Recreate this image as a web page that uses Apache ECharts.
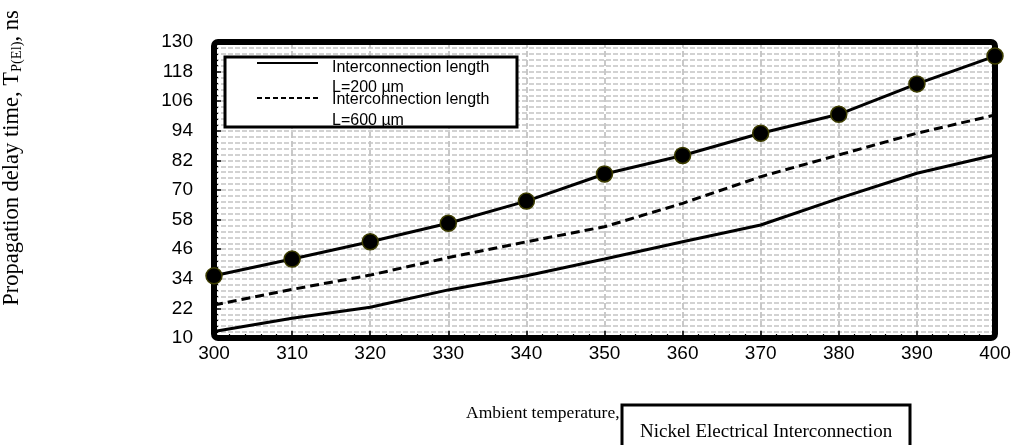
<!DOCTYPE html>
<html><head><meta charset="utf-8">
<script src="https://cdn.jsdelivr.net/npm/echarts@6/dist/echarts.min.js"></script>
<style>html,body{margin:0;padding:0;background:#fff}#c{width:1018px;height:445px}</style>
</head><body><div id="c"></div>
<script>
const temperatures = [300, 310, 320, 330, 340, 350, 360, 370, 380, 390, 400];
const delayL200 = [12.6, 18, 22.5, 29.5, 35.2, 42, 49, 55.8, 66.6, 76.8, 84.2];
const delayL600 = [23.4, 29.7, 35.5, 42.6, 49, 55.1, 64.6, 75.4, 84.2, 93, 100.4];
const delayMarked = [35.2, 42, 49, 56.5, 65.5, 76.5, 84, 93, 100.7, 113, 124.3];
const yTicks = [10, 22, 34, 46, 58, 70, 82, 94, 106, 118, 130];
const xTicks = [300, 310, 320, 330, 340, 350, 360, 370, 380, 390, 400];
const legendNames = ['Interconnection length', 'L=200 µm', 'Interconnection length', 'L=600 µm'];
const yTitle = ['Propagation delay time, T', 'P(El)', ', ns'];
const xTitle = 'Ambient temperature, T, K';
const boxTitle = 'Nickel Electrical Interconnection';

const pairs = v => temperatures.map((t, i) => [t, v[i]]);
const SANS = '"Liberation Sans", Arial, sans-serif';
const SERIF = '"Liberation Serif", "Times New Roman", serif';
const gridDash = { color: '#c4c4c4', width: 1.6, type: [5, 2] };
const G = { left: 214, right: 23, top: 42, bottom: 107 };
const W = 1018, H = 445;

const chart = echarts.init(document.getElementById('c'), null, { renderer: 'canvas' });
chart.setOption({
  animation: false,
  backgroundColor: '#fff',
  grid: { left: G.left, right: G.right, top: G.top, bottom: G.bottom, show: false },
  xAxis: {
    type: 'value', min: xTicks[0], max: xTicks[xTicks.length - 1], interval: 10,
    axisLine: { show: false },
    axisTick: { show: true, inside: true, length: 7, lineStyle: { color: '#000', width: 1.5 } },
    minorTick: { show: true, splitNumber: 5, length: 4, lineStyle: { color: '#000', width: 1.2 } },
    splitLine: { show: true, lineStyle: { color: '#c4c4c4', width: 1.8, type: [6, 3] } },
    axisLabel: { fontSize: 19, color: '#000', fontFamily: SANS, margin: 6 }
  },
  yAxis: {
    type: 'value', min: yTicks[0], max: yTicks[yTicks.length - 1], interval: 12,
    axisLine: { show: false },
    axisTick: { show: true, inside: true, length: 7, lineStyle: { color: '#000', width: 1.5 } },
    minorTick: { show: true, splitNumber: 5, length: 4, lineStyle: { color: '#000', width: 1.2 } },
    splitLine: { show: true, lineStyle: gridDash },
    minorSplitLine: { show: true, lineStyle: gridDash },
    axisLabel: { fontSize: 19, color: '#000', fontFamily: SANS, margin: 21 }
  },
  series: [
    { name: 'Interconnection length L=200 µm', type: 'line', data: pairs(delayL200), symbol: 'none',
      lineStyle: { color: '#000', width: 3 }, z: 3 },
    { name: 'Interconnection length L=600 µm', type: 'line', data: pairs(delayL600), symbol: 'none',
      lineStyle: { color: '#000', width: 3, type: [9, 5] }, z: 3 },
    { name: 'Marked series', type: 'line', data: pairs(delayMarked), symbol: 'circle', symbolSize: 16, clip: false,
      lineStyle: { color: '#000', width: 3 }, itemStyle: { color: '#000', borderColor: '#3d3d00', borderWidth: 1.5 }, z: 6 }
  ],
  graphic: [
    { type: 'rect', z: 5, shape: { x: G.left, y: G.top, width: W - G.left - G.right, height: H - G.top - G.bottom, r: 4 },
      style: { fill: null, stroke: '#000', lineWidth: 6 } },
    { type: 'rect', z: 100, shape: { x: 225, y: 57, width: 292, height: 70 }, style: { fill: '#fff', stroke: null } },
    { type: 'line', z: 101, shape: { x1: 257, y1: 63, x2: 318, y2: 63 }, style: { stroke: '#000', lineWidth: 2 } },
    { type: 'line', z: 101, shape: { x1: 257, y1: 98, x2: 318, y2: 98 }, style: { stroke: '#000', lineWidth: 2, lineDash: [5, 3] } },
    { type: 'text', z: 101, x: 332, y: 68, style: { text: legendNames[0], font: '16px ' + SANS, fill: '#000', verticalAlign: 'middle' } },
    { type: 'text', z: 101, x: 332, y: 88, style: { text: legendNames[1], font: '16px ' + SANS, fill: '#000', verticalAlign: 'middle' } },
    { type: 'text', z: 101, x: 332, y: 100, style: { text: legendNames[2], font: '16px ' + SANS, fill: '#000', verticalAlign: 'middle' } },
    { type: 'text', z: 101, x: 332, y: 121, style: { text: legendNames[3], font: '16px ' + SANS, fill: '#000', verticalAlign: 'middle' } },
    { type: 'rect', z: 102, shape: { x: 225, y: 57, width: 292, height: 70 }, style: { fill: null, stroke: '#000', lineWidth: 3 } },
    { type: 'text', z: 100, x: 12, y: 158, rotation: Math.PI / 2,
      style: { text: '{a|' + yTitle[0] + '}{s|' + yTitle[1] + '}{a|' + yTitle[2] + '}', align: 'center', verticalAlign: 'middle',
        rich: { a: { fontSize: 22.5, fontFamily: SERIF, color: '#000', lineHeight: 26 },
                s: { fontSize: 14.5, fontFamily: SERIF, color: '#000', verticalAlign: 'bottom', lineHeight: 16 } } } },
    { type: 'text', z: 100, x: 466, y: 413, style: { text: xTitle, font: '17.5px ' + SERIF, fill: '#000', verticalAlign: 'middle' } },
    { type: 'rect', z: 103, shape: { x: 622, y: 405, width: 288, height: 60 }, style: { fill: '#fff', stroke: '#000', lineWidth: 3 } },
    { type: 'text', z: 104, x: 640, y: 432, style: { text: boxTitle, font: '19px ' + SERIF, fill: '#000', verticalAlign: 'middle' } }
  ]
});
</script></body></html>
